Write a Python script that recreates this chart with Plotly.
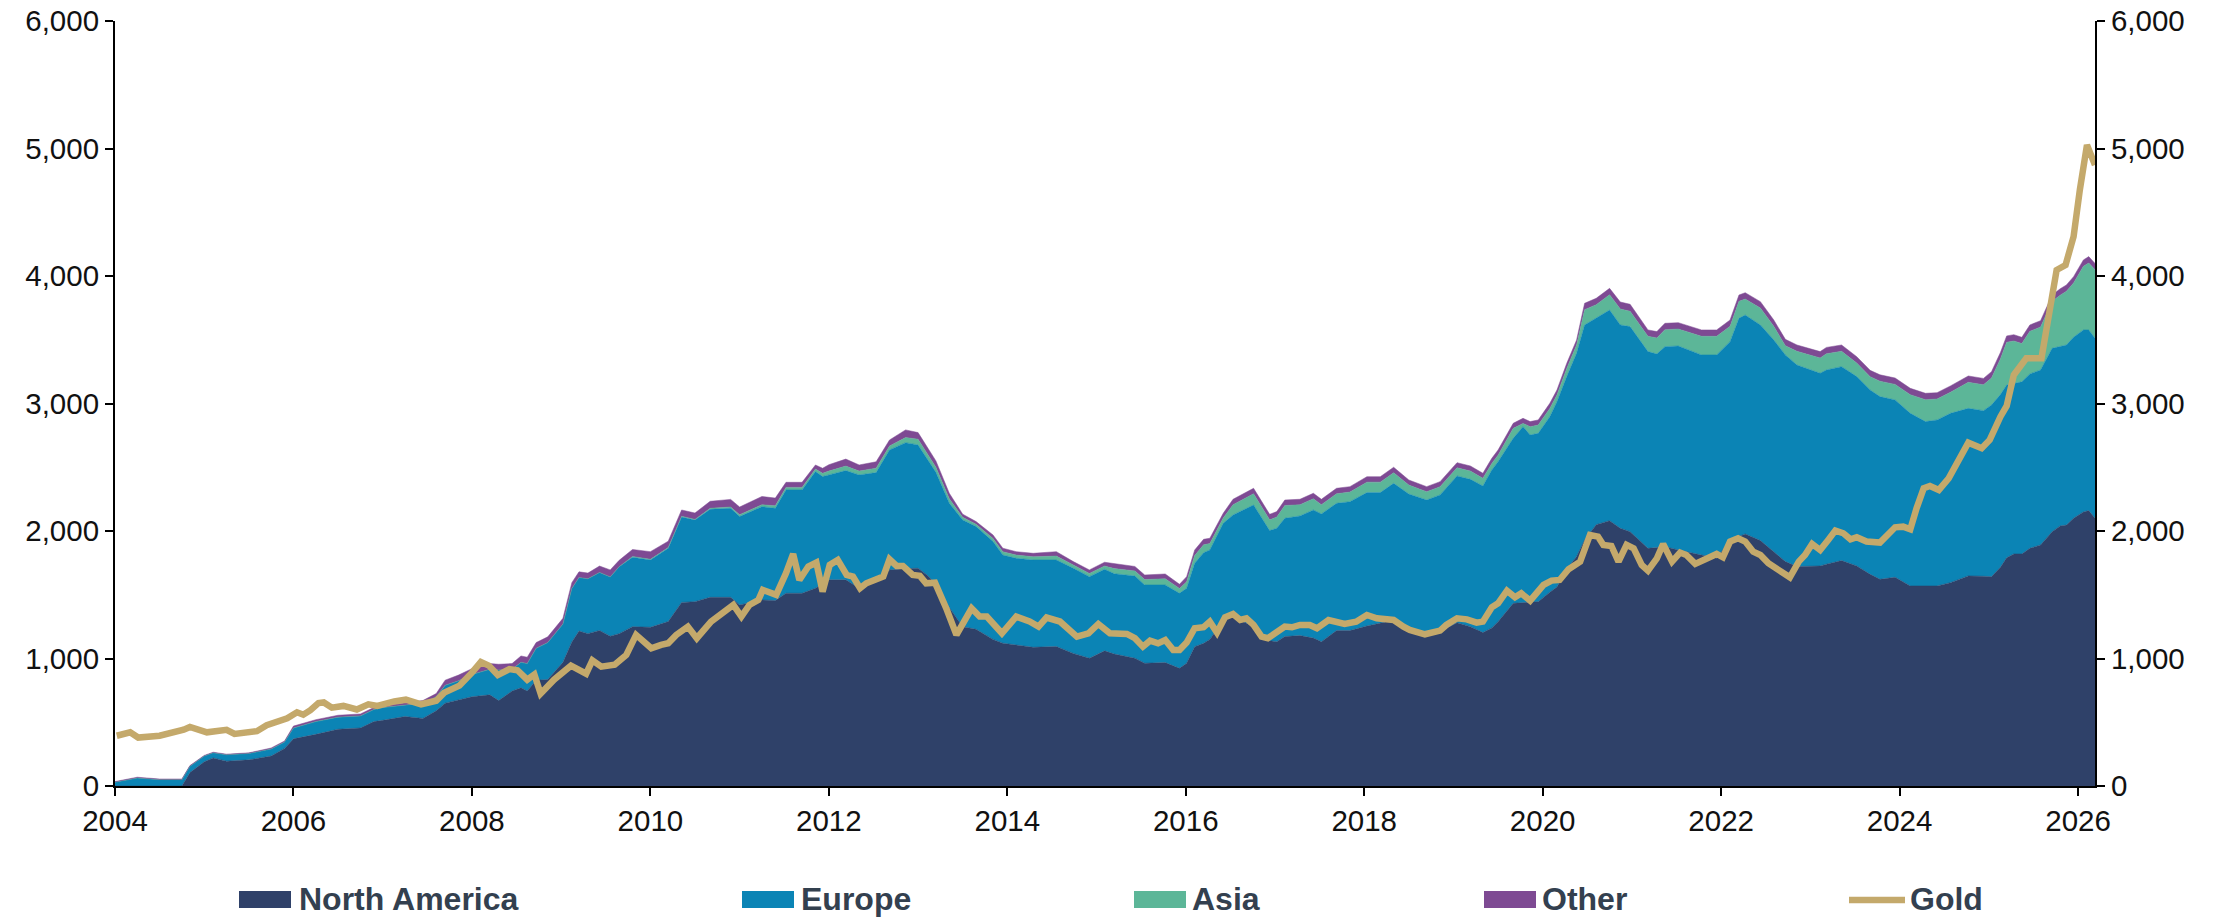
import plotly.graph_objects as go

# ---- Data ----
area_years = [
    2004.00, 2004.25, 2004.50, 2004.75, 2004.84, 2005.00, 2005.10, 2005.25, 2005.50, 2005.75,
    2005.90, 2006.00, 2006.25, 2006.50, 2006.75, 2006.90, 2007.00, 2007.25, 2007.45, 2007.60,
    2007.70, 2007.85, 2008.00, 2008.20, 2008.30, 2008.45, 2008.55, 2008.62, 2008.72, 2008.85,
    2009.02, 2009.12, 2009.20, 2009.30, 2009.43, 2009.55, 2009.65, 2009.80, 2010.00, 2010.20,
    2010.35, 2010.50, 2010.67, 2010.90, 2011.00, 2011.25, 2011.40, 2011.52, 2011.70, 2011.85,
    2011.93, 2012.00, 2012.19, 2012.34, 2012.53, 2012.68, 2012.86, 2013.00, 2013.11, 2013.20,
    2013.35, 2013.50, 2013.65, 2013.84, 2013.95, 2014.10, 2014.29, 2014.55, 2014.74, 2014.92,
    2015.09, 2015.20, 2015.43, 2015.54, 2015.77, 2015.93, 2016.01, 2016.10, 2016.20, 2016.27,
    2016.42, 2016.53, 2016.76, 2016.94, 2017.02, 2017.11, 2017.28, 2017.43, 2017.52, 2017.69,
    2017.84, 2018.03, 2018.18, 2018.33, 2018.50, 2018.70, 2018.85, 2019.04, 2019.19, 2019.33,
    2019.43, 2019.50, 2019.67, 2019.78, 2019.86, 2019.95, 2020.08, 2020.16, 2020.27, 2020.38,
    2020.47, 2020.60, 2020.75, 2020.87, 2020.98, 2021.18, 2021.28, 2021.37, 2021.52, 2021.78,
    2021.95, 2022.10, 2022.20, 2022.27, 2022.44, 2022.59, 2022.72, 2022.85, 2023.11, 2023.18,
    2023.35, 2023.52, 2023.67, 2023.78, 2023.95, 2024.12, 2024.29, 2024.42, 2024.57, 2024.77,
    2024.94, 2025.03, 2025.13, 2025.20, 2025.28, 2025.37, 2025.46, 2025.58, 2025.71, 2025.80,
    2025.87, 2025.95, 2026.06, 2026.12, 2026.19,
]

north_america = [
    0, 0, 0, 0, 105, 190, 220, 195, 205, 235,
    295, 370, 405, 445, 455, 505, 515, 545, 530, 590,
    650, 675, 700, 715, 670, 745, 770, 745, 830, 835,
    970, 1130, 1215, 1195, 1220, 1175, 1195, 1250, 1245, 1290,
    1440, 1446, 1480, 1480, 1420, 1459, 1454, 1512, 1512, 1551,
    1590, 1617, 1617, 1551, 1604, 1694, 1705, 1708, 1650, 1580,
    1400, 1250, 1229, 1150, 1120, 1105, 1088, 1094, 1040, 1002,
    1060, 1035, 1002, 963, 968, 923, 963, 1093, 1119, 1150,
    1300, 1330, 1250, 1140, 1132, 1172, 1180, 1160, 1132, 1219,
    1219, 1255, 1276, 1300, 1230, 1172, 1211, 1281, 1250, 1203,
    1240, 1289, 1433, 1438, 1440, 1446, 1520, 1560, 1700, 1800,
    1930, 2050, 2081, 2021, 1995, 1864, 1870, 1877, 1851, 1810,
    1786, 1930, 1960, 1977, 1925, 1838, 1760, 1721, 1726, 1740,
    1768, 1726, 1660, 1621, 1637, 1569, 1569, 1569, 1595, 1648,
    1645, 1642, 1715, 1790, 1820, 1820, 1864, 1891, 1995, 2040,
    2047, 2100, 2150, 2160, 2100,
]

europe = [
    30, 62, 50, 50, 50, 45, 40, 50, 50, 55,
    50, 85, 100, 95, 95, 95, 100, 90, 120, 110,
    140, 150, 175, 200, 240, 170, 200, 215, 250, 290,
    300, 420, 420, 430, 455, 465, 525, 545, 528, 575,
    670, 640, 690, 698, 693, 732, 724, 810, 810, 915,
    837, 823, 857, 889, 854, 942, 988, 967, 907, 880,
    818, 837, 806, 767, 692, 681, 685, 679, 668, 640,
    640, 630, 645, 614, 609, 588, 588, 654, 711, 701,
    760, 796, 954, 863, 889, 928, 938, 1005, 1002, 998,
    1011, 1046, 1025, 1074, 1060, 1071, 1072, 1151, 1155, 1150,
    1239, 1255, 1294, 1380, 1313, 1320, 1377, 1454, 1511, 1594,
    1686, 1618, 1652, 1595, 1608, 1543, 1518, 1569, 1600, 1571,
    1595, 1555, 1708, 1717, 1691, 1660, 1621, 1581, 1511, 1523,
    1521, 1485, 1446, 1433, 1391, 1354, 1289, 1302, 1328, 1314,
    1299, 1346, 1355, 1355, 1335, 1350, 1368, 1372, 1438, 1410,
    1412, 1420, 1427, 1417, 1411,
]

asia = [
    0, 0, 0, 0, 0, 0, 0, 0, 0, 0,
    0, 0, 0, 0, 0, 0, 0, 0, 0, 0,
    0, 0, 0, 0, 0, 0, 0, 0, 0, 0,
    0, 0, 0, 0, 0, 0, 0, 5, 5, 5,
    5, 5, 8, 10, 15, 15, 20, 20, 20, 20,
    25, 30, 35, 30, 35, 30, 40, 45, 40, 40,
    35, 20, 18, 25, 25, 25, 25, 30, 25, 25,
    25, 40, 40, 42, 48, 38, 50, 60, 62, 50,
    42, 80, 88, 85, 88, 100, 88, 88, 72, 75,
    75, 82, 82, 83, 70, 65, 64, 64, 65, 60,
    51, 51, 78, 26, 65, 65, 64, 52, 64, 64,
    120, 107, 120, 125, 120, 120, 126, 133, 133, 146,
    146, 120, 133, 125, 133, 107, 72, 107, 120, 127,
    120, 106, 104, 121, 122, 146, 172, 164, 165, 204,
    203, 212, 280, 335, 335, 300, 334, 337, 368, 400,
    421, 425, 499, 525, 538,
]

other = [
    5, 7, 5, 5, 5, 5, 5, 5, 5, 8,
    8, 15, 15, 15, 15, 15, 15, 15, 20, 25,
    40, 45, 45, 45, 45, 45, 50, 50, 45, 45,
    45, 45, 45, 45, 50, 55, 50, 55, 60, 50,
    50, 50, 55, 60, 60, 65, 60, 40, 40, 32,
    40, 50, 55, 48, 50, 48, 60, 52, 52, 50,
    43, 25, 21, 27, 28, 27, 27, 35, 27, 28,
    30, 38, 35, 36, 38, 33, 41, 44, 43, 42,
    37, 43, 43, 43, 43, 43, 43, 43, 43, 43,
    43, 43, 43, 43, 40, 40, 40, 40, 40, 40,
    40, 40, 40, 40, 40, 40, 40, 40, 40, 40,
    50, 50, 50, 55, 55, 50, 50, 50, 50, 50,
    50, 50, 50, 50, 50, 50, 50, 50, 50, 50,
    50, 50, 50, 50, 50, 50, 50, 50, 50, 50,
    50, 50, 50, 50, 50, 49, 50, 50, 50, 50,
    50, 50, 50, 50, 50,
]

gold_years = [
    2004.02, 2004.17, 2004.26, 2004.50, 2004.77, 2004.84, 2005.03, 2005.25, 2005.34, 2005.59,
    2005.70, 2005.93, 2006.04, 2006.11, 2006.19, 2006.28, 2006.34, 2006.43, 2006.56, 2006.71,
    2006.84, 2006.94, 2007.13, 2007.26, 2007.43, 2007.60, 2007.69, 2007.86, 2008.00, 2008.10,
    2008.19, 2008.29, 2008.42, 2008.51, 2008.62, 2008.70, 2008.77, 2008.92, 2009.11, 2009.28,
    2009.35, 2009.45, 2009.60, 2009.73, 2009.84, 2010.01, 2010.12, 2010.20, 2010.29, 2010.42,
    2010.52, 2010.68, 2010.93, 2011.02, 2011.11, 2011.21, 2011.26, 2011.41, 2011.52, 2011.60,
    2011.67, 2011.77, 2011.86, 2011.93, 2012.01, 2012.10, 2012.20, 2012.27, 2012.35, 2012.42,
    2012.61, 2012.68, 2012.76, 2012.83, 2012.94, 2013.02, 2013.09, 2013.19, 2013.32, 2013.43,
    2013.60, 2013.69, 2013.77, 2013.94, 2014.10, 2014.25, 2014.35, 2014.44, 2014.59, 2014.78,
    2014.91, 2015.02, 2015.15, 2015.34, 2015.43, 2015.52, 2015.60, 2015.69, 2015.77, 2015.86,
    2015.93, 2016.01, 2016.10, 2016.20, 2016.27, 2016.35, 2016.44, 2016.53, 2016.61, 2016.68,
    2016.76, 2016.85, 2016.92, 2017.02, 2017.11, 2017.19, 2017.28, 2017.39, 2017.47, 2017.60,
    2017.69, 2017.78, 2017.91, 2018.03, 2018.14, 2018.33, 2018.44, 2018.51, 2018.68, 2018.77,
    2018.85, 2018.92, 2019.04, 2019.15, 2019.26, 2019.33, 2019.43, 2019.50, 2019.60, 2019.69,
    2019.76, 2019.86, 2020.01, 2020.10, 2020.19, 2020.29, 2020.42, 2020.53, 2020.62, 2020.68,
    2020.77, 2020.85, 2020.94, 2021.02, 2021.11, 2021.18, 2021.28, 2021.35, 2021.45, 2021.54,
    2021.61, 2021.71, 2021.86, 2021.95, 2022.02, 2022.10, 2022.19, 2022.27, 2022.36, 2022.44,
    2022.53, 2022.64, 2022.77, 2022.87, 2022.94, 2023.02, 2023.11, 2023.20, 2023.28, 2023.37,
    2023.45, 2023.52, 2023.63, 2023.78, 2023.87, 2023.95, 2024.04, 2024.12, 2024.19, 2024.27,
    2024.34, 2024.44, 2024.55, 2024.64, 2024.77, 2024.92, 2025.01, 2025.13, 2025.20, 2025.28,
    2025.42, 2025.59, 2025.67, 2025.76, 2025.86, 2025.95, 2026.02, 2026.10, 2026.19,
]

gold = [
    394, 421, 380, 394, 441, 463, 421, 441, 408, 430,
    477, 531, 578, 559, 595, 650, 655, 614, 628, 600,
    641, 628, 663, 677, 641, 669, 732, 787, 889, 972,
    944, 870, 917, 908, 834, 875, 724, 834, 944, 881,
    985, 936, 952, 1028, 1185, 1080, 1107, 1120, 1185, 1250,
    1159, 1290, 1420, 1329, 1420, 1459, 1538, 1499, 1669, 1820,
    1616, 1721, 1752, 1525, 1734, 1773, 1656, 1643, 1551, 1590,
    1643, 1778, 1726, 1726, 1656, 1648, 1590, 1595, 1386, 1185,
    1394, 1329, 1329, 1198, 1329, 1290, 1250, 1321, 1290, 1172,
    1198, 1271, 1198, 1193, 1159, 1093, 1140, 1119, 1145, 1067,
    1067, 1125, 1237, 1245, 1289, 1203, 1323, 1349, 1302, 1315,
    1263, 1172, 1159, 1211, 1250, 1245, 1263, 1263, 1237, 1302,
    1281, 1271, 1289, 1341, 1315, 1302, 1250, 1224, 1190, 1211,
    1219, 1263, 1315, 1307, 1281, 1289, 1402, 1433, 1532, 1480,
    1511, 1454, 1577, 1611, 1616, 1700, 1760, 1969, 1956, 1890,
    1883, 1760, 1891, 1864, 1734, 1689, 1786, 1898, 1760, 1831,
    1812, 1742, 1794, 1820, 1794, 1917, 1943, 1917, 1838, 1812,
    1747, 1695, 1637, 1760, 1812, 1898, 1851, 1930, 2003, 1982,
    1935, 1951, 1917, 1909, 1982, 2029, 2034, 2013, 2178, 2335,
    2353, 2322, 2413, 2518, 2693, 2649, 2714, 2897, 2981, 3224,
    3354, 3354, 3681, 4047, 4086, 4309, 4675, 5027, 4870,
]

series_names = ["North America", "Europe", "Asia", "Other", "Gold"]
series_colors = ["#2f4169", "#0b84b5", "#5cb698", "#7e4a93", "#c4a96b"]
x_ticks = [2004, 2006, 2008, 2010, 2012, 2014, 2016, 2018, 2020, 2022, 2024, 2026]
y_ticks = [0, 1000, 2000, 3000, 4000, 5000, 6000]

# ---- Figure ----
fig = go.Figure()
area_values = [north_america, europe, asia, other]
for name, vals, col in zip(series_names[:4], area_values, series_colors[:4]):
    fig.add_trace(go.Scatter(
        x=area_years, y=vals, name=name, stackgroup="etf", mode="lines",
        line=dict(width=0.5, color=col), fillcolor=col,
    ))

fig.add_trace(go.Scatter(
    x=gold_years, y=gold, name=series_names[4], mode="lines", yaxis="y2",
    line=dict(width=6.5, color=series_colors[4]),
))

font_family = "Liberation Sans, Arial, sans-serif"
axis_common = dict(
    showline=True, linecolor="#000000", linewidth=2, ticks="outside", ticklen=8,
    tickwidth=2, tickcolor="#000000", showgrid=False, zeroline=False,
    tickfont=dict(family=font_family, size=29.5, color="#111111"),
    ticklabeloverflow="allow",
)

W, H = 2226, 917
ml, mr, mt, mb = 115, 131, 21, 131
plot_w = float(W - ml - mr)
plot_h = float(H - mt - mb)


def px_x(page_x):
    return (page_x - ml) / plot_w


def px_y(page_y):
    return (H - mb - page_y) / plot_h


# ---- Legend (drawn as shapes + text, matching the reference's large swatches) ----
legend_swatch_left = [239, 742, 1134, 1484]
legend_text_left = [297, 799, 1190, 1540]
gold_line_span = (1849, 1905)
gold_text_left = 1908
legend_text_y = 899
swatch_top, swatch_bottom = 891, 908
legend_font = dict(family=font_family, size=32, color="#33404f", weight="bold")

shapes = []
annotations = []
for name, col, sx, tx in zip(series_names[:4], series_colors[:4], legend_swatch_left, legend_text_left):
    shapes.append(dict(
        type="rect", xref="paper", yref="paper",
        x0=px_x(sx), x1=px_x(sx + 52), y0=px_y(swatch_bottom), y1=px_y(swatch_top),
        fillcolor=col, line=dict(width=0),
    ))
    annotations.append(dict(
        text=f"<b>{name}</b>", xref="paper", yref="paper", x=px_x(tx), y=px_y(legend_text_y),
        xanchor="left", yanchor="middle", showarrow=False, font=legend_font,
    ))
shapes.append(dict(
    type="line", xref="paper", yref="paper",
    x0=px_x(gold_line_span[0]), x1=px_x(gold_line_span[1]),
    y0=px_y(900), y1=px_y(900), line=dict(color=series_colors[4], width=6.5),
))
annotations.append(dict(
    text=f"<b>{series_names[4]}</b>", xref="paper", yref="paper", x=px_x(gold_text_left),
    y=px_y(legend_text_y), xanchor="left", yanchor="middle", showarrow=False, font=legend_font,
))

fig.update_layout(
    width=W, height=H,
    margin=dict(l=ml, r=mr, t=mt, b=mb, pad=0, autoexpand=False),
    paper_bgcolor="white", plot_bgcolor="white",
    font=dict(family=font_family, size=29.5, color="#111111"),
    xaxis=dict(range=[2004, 2026.19], tickvals=x_ticks, tickformat="d", **axis_common),
    yaxis=dict(range=[0, 6000], tickvals=y_ticks, tickformat=",", **axis_common),
    yaxis2=dict(range=[0, 6000], tickvals=y_ticks, tickformat=",", overlaying="y",
                side="right", **axis_common),
    showlegend=False,
    shapes=shapes,
    annotations=annotations,
)

# Remove the browser's default body margin so the figure fills the window exactly.
fig.write_html(
    "out.html",
    config={"displayModeBar": False},
    post_script="document.body.style.margin='0';document.body.style.overflow='hidden';",
)
